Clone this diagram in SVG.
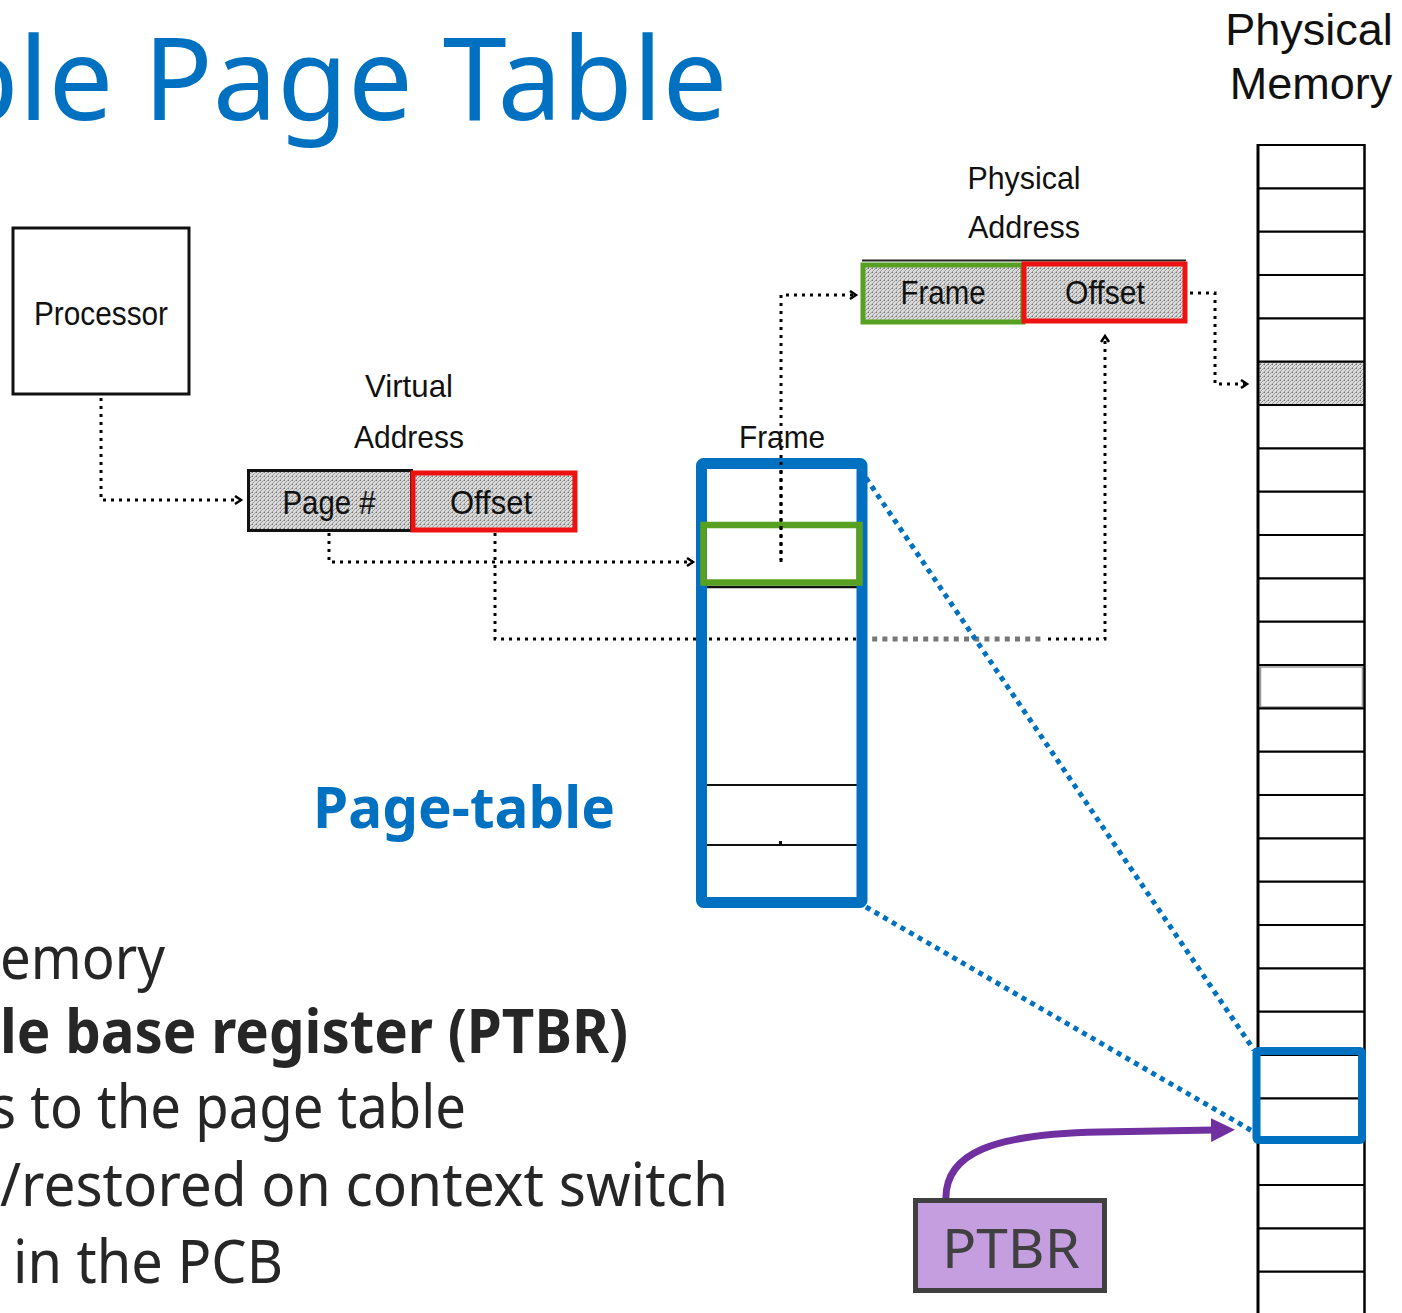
<svg xmlns="http://www.w3.org/2000/svg" width="1402" height="1313" viewBox="0 0 1402 1313">
  <style>
    .title { font-family: "Noto Sans", "Open Sans", sans-serif; font-size: 115px; fill: #0070c0; }
    .body { font-family: "Noto Sans", "Open Sans", sans-serif; font-size: 61px; fill: #262626; }
    .bodyb { font-family: "Noto Sans", "Open Sans", sans-serif; font-size: 61px; font-weight: bold; fill: #262626; }
    .cond { font-family: "Liberation Sans Narrow", "Liberation Sans", sans-serif; font-size: 34px; fill: #111; }
    .lbl { font-family: "Liberation Sans Narrow", "Liberation Sans", sans-serif; font-size: 32px; fill: #111; }
    .pm { font-family: "Liberation Sans", Arial, sans-serif; font-size: 45px; fill: #111; }
    .dot { fill: none; stroke: #000; stroke-width: 3; stroke-dasharray: 3 5; }
    .bluedot { fill: none; stroke: #0070c0; stroke-width: 5; stroke-dasharray: 5 5; }
    .cell { stroke: #000; stroke-width: 2.2; }
  </style>
  <defs>
    <pattern id="hatch" width="4" height="4" patternUnits="userSpaceOnUse">
      <rect width="4" height="4" fill="#dadada"/>
      <path d="M0,4 L4,0 M-1,1 L1,-1 M3,5 L5,3" stroke="#8c8c8c" stroke-width="0.8"/>
      <rect x="0" y="0" width="1" height="1" fill="#777"/>
    </pattern>
    <marker id="chev" markerWidth="12" markerHeight="12" refX="8" refY="5" orient="auto" markerUnits="userSpaceOnUse">
      <path d="M2,1 L8,5 L2,9" fill="none" stroke="#000" stroke-width="2.5"/>
    </marker>
    <marker id="tri" markerWidth="30" markerHeight="30" refX="3" refY="12" orient="auto" markerUnits="userSpaceOnUse">
      <path d="M0,0 L24,12 L0,24 Z" fill="#7030a0"/>
    </marker>
  </defs>

  <rect width="1402" height="1313" fill="#fff"/>

  <!-- heading and bullet text -->
  <text class="title" x="-52" y="120">ple Page Table</text>
  <g id="bullets">
    <text class="body" x="0" y="979" textLength="165" lengthAdjust="spacingAndGlyphs">emory</text>
    <text class="bodyb" x="0" y="1053" textLength="628" lengthAdjust="spacingAndGlyphs">le base register (PTBR)</text>
    <text class="body" x="-10" y="1128" textLength="476" lengthAdjust="spacingAndGlyphs">s to the page table</text>
    <text class="body" x="0" y="1206" textLength="728" lengthAdjust="spacingAndGlyphs">/restored on context switch</text>
    <text class="body" x="13" y="1283" textLength="270" lengthAdjust="spacingAndGlyphs">in the PCB</text>
  </g>

  <!-- connectors -->
  <g id="connectors">
    <path class="dot" d="M101,398 V500 H241" marker-end="url(#chev)"/>
    <path class="dot" d="M329,533 V562 H693" marker-end="url(#chev)"/>
    <path class="dot" d="M495,533 V639 H860"/>
    <path d="M862,639 H1045" fill="none" stroke="#777" stroke-width="5" stroke-dasharray="5 5.2"/>
    <path class="dot" d="M1048,639 H1105 V336" marker-end="url(#chev)"/>
    <path class="dot" d="M781,562 V295 H856" marker-end="url(#chev)"/>
    <path class="dot" d="M1190,293 H1215 V384 H1247" marker-end="url(#chev)"/>
    <path class="bluedot" d="M866,478 L1254,1050"/>
    <path class="bluedot" d="M866,907 L1254,1132"/>
    <path d="M946,1202 C943,1152 995,1134 1100,1132 L1214,1130" fill="none" stroke="#7030a0" stroke-width="7" marker-end="url(#tri)"/>
  </g>

  <!-- processor -->
  <g id="processor">
    <rect x="13" y="228" width="176" height="166" fill="none" stroke="#111" stroke-width="3"/>
    <text class="cond" x="101" y="325" text-anchor="middle" textLength="134" lengthAdjust="spacingAndGlyphs">Processor</text>
  </g>

  <!-- virtual address -->
  <g id="virtual-address">
    <text class="lbl" x="409" y="397" text-anchor="middle" textLength="88" lengthAdjust="spacingAndGlyphs">Virtual</text>
    <text class="lbl" x="409" y="448" text-anchor="middle" textLength="110" lengthAdjust="spacingAndGlyphs">Address</text>
    <rect x="248.5" y="470.5" width="163" height="60" fill="url(#hatch)" stroke="#111" stroke-width="3"/>
    <rect x="413" y="473" width="162" height="57" fill="url(#hatch)" stroke="#ee1111" stroke-width="5"/>
    <text class="cond" x="329" y="514" text-anchor="middle" textLength="93" lengthAdjust="spacingAndGlyphs">Page #</text>
    <text class="cond" x="491" y="514" text-anchor="middle" textLength="82" lengthAdjust="spacingAndGlyphs">Offset</text>
  </g>

  <!-- physical address -->
  <g id="physical-address">
    <text class="lbl" x="1024" y="189" text-anchor="middle" textLength="113" lengthAdjust="spacingAndGlyphs">Physical</text>
    <text class="lbl" x="1024" y="238" text-anchor="middle" textLength="112" lengthAdjust="spacingAndGlyphs">Address</text>
    <line x1="862" y1="260.5" x2="1186" y2="260.5" stroke="#222" stroke-width="2"/>
    <rect x="863" y="265" width="160" height="57" fill="url(#hatch)" stroke="#58a021" stroke-width="5"/>
    <rect x="1024" y="264" width="161" height="57" fill="url(#hatch)" stroke="#ee1111" stroke-width="5"/>
    <text class="cond" x="943" y="304" text-anchor="middle" textLength="85" lengthAdjust="spacingAndGlyphs">Frame</text>
    <text class="cond" x="1105" y="304" text-anchor="middle" textLength="80" lengthAdjust="spacingAndGlyphs">Offset</text>
  </g>

  <!-- page table -->
  <g id="page-table">
    <text class="lbl" x="782" y="448" text-anchor="middle" textLength="86" lengthAdjust="spacingAndGlyphs">Frame</text>
    <line x1="707" y1="587" x2="858" y2="587" stroke="#111" stroke-width="2.5"/>
    <line x1="707" y1="785" x2="858" y2="785" stroke="#111" stroke-width="2"/>
    <line x1="707" y1="845" x2="858" y2="845" stroke="#111" stroke-width="2"/>
    <rect x="779" y="841" width="3" height="3" fill="#111"/>
    <rect x="701.5" y="463.5" width="160.5" height="439" rx="2" fill="none" stroke="#0070c0" stroke-width="11"/>
    <rect x="703.5" y="525" width="156" height="57.5" fill="none" stroke="#58a021" stroke-width="6.5"/>
    <line x1="781" y1="462" x2="781" y2="560" stroke="#000" stroke-width="3" stroke-dasharray="3 5"/>
  </g>
  <text x="464" y="828" text-anchor="middle" font-family="Noto Sans, Open Sans, sans-serif" font-size="58" font-weight="bold" fill="#0070c0" textLength="302" lengthAdjust="spacingAndGlyphs">Page-table</text>

  <!-- physical memory -->
  <g id="physical-memory">
    <text class="pm" x="1309" y="45" text-anchor="middle">Physical</text>
    <text class="pm" x="1311" y="99" text-anchor="middle">Memory</text>
    <rect x="1258" y="362" width="106" height="43" fill="url(#hatch)"/>
    <rect x="1260.5" y="667" width="102" height="40" fill="none" stroke="#999" stroke-width="1.5"/>
    <g class="cell">
      <line x1="1257" y1="145" x2="1365" y2="145"/>
      <line x1="1257" y1="188.3" x2="1365" y2="188.3"/>
      <line x1="1257" y1="231.7" x2="1365" y2="231.7"/>
      <line x1="1257" y1="275" x2="1365" y2="275"/>
      <line x1="1257" y1="318.3" x2="1365" y2="318.3"/>
      <line x1="1257" y1="361.7" x2="1365" y2="361.7"/>
      <line x1="1257" y1="405" x2="1365" y2="405"/>
      <line x1="1257" y1="448.3" x2="1365" y2="448.3"/>
      <line x1="1257" y1="491.7" x2="1365" y2="491.7"/>
      <line x1="1257" y1="535" x2="1365" y2="535"/>
      <line x1="1257" y1="578.3" x2="1365" y2="578.3"/>
      <line x1="1257" y1="621.7" x2="1365" y2="621.7"/>
      <line x1="1257" y1="665" x2="1365" y2="665"/>
      <line x1="1257" y1="708.3" x2="1365" y2="708.3"/>
      <line x1="1257" y1="751.7" x2="1365" y2="751.7"/>
      <line x1="1257" y1="795" x2="1365" y2="795"/>
      <line x1="1257" y1="838.3" x2="1365" y2="838.3"/>
      <line x1="1257" y1="881.7" x2="1365" y2="881.7"/>
      <line x1="1257" y1="925" x2="1365" y2="925"/>
      <line x1="1257" y1="968.3" x2="1365" y2="968.3"/>
      <line x1="1257" y1="1011.7" x2="1365" y2="1011.7"/>
      <line x1="1257" y1="1055" x2="1365" y2="1055"/>
      <line x1="1257" y1="1098.3" x2="1365" y2="1098.3"/>
      <line x1="1257" y1="1141.7" x2="1365" y2="1141.7"/>
      <line x1="1257" y1="1185" x2="1365" y2="1185"/>
      <line x1="1257" y1="1228.3" x2="1365" y2="1228.3"/>
      <line x1="1257" y1="1271.7" x2="1365" y2="1271.7"/>
    </g>
    <line x1="1258" y1="144" x2="1258" y2="1313" stroke="#000" stroke-width="3"/>
    <line x1="1364.5" y1="144" x2="1364.5" y2="1313" stroke="#000" stroke-width="2.5"/>
    <rect x="1256.5" y="1051" width="105.5" height="89" rx="2" fill="none" stroke="#0070c0" stroke-width="8"/>
  </g>

  <!-- page table base register -->
  <g id="ptbr">
    <rect x="915.5" y="1200.5" width="189" height="90" fill="#c59ee0" stroke="#404040" stroke-width="5"/>
    <text x="1011" y="1268" text-anchor="middle" font-family="Noto Sans, Open Sans, sans-serif" font-size="54" fill="#404040" textLength="138" lengthAdjust="spacingAndGlyphs">PTBR</text>
  </g>
</svg>
